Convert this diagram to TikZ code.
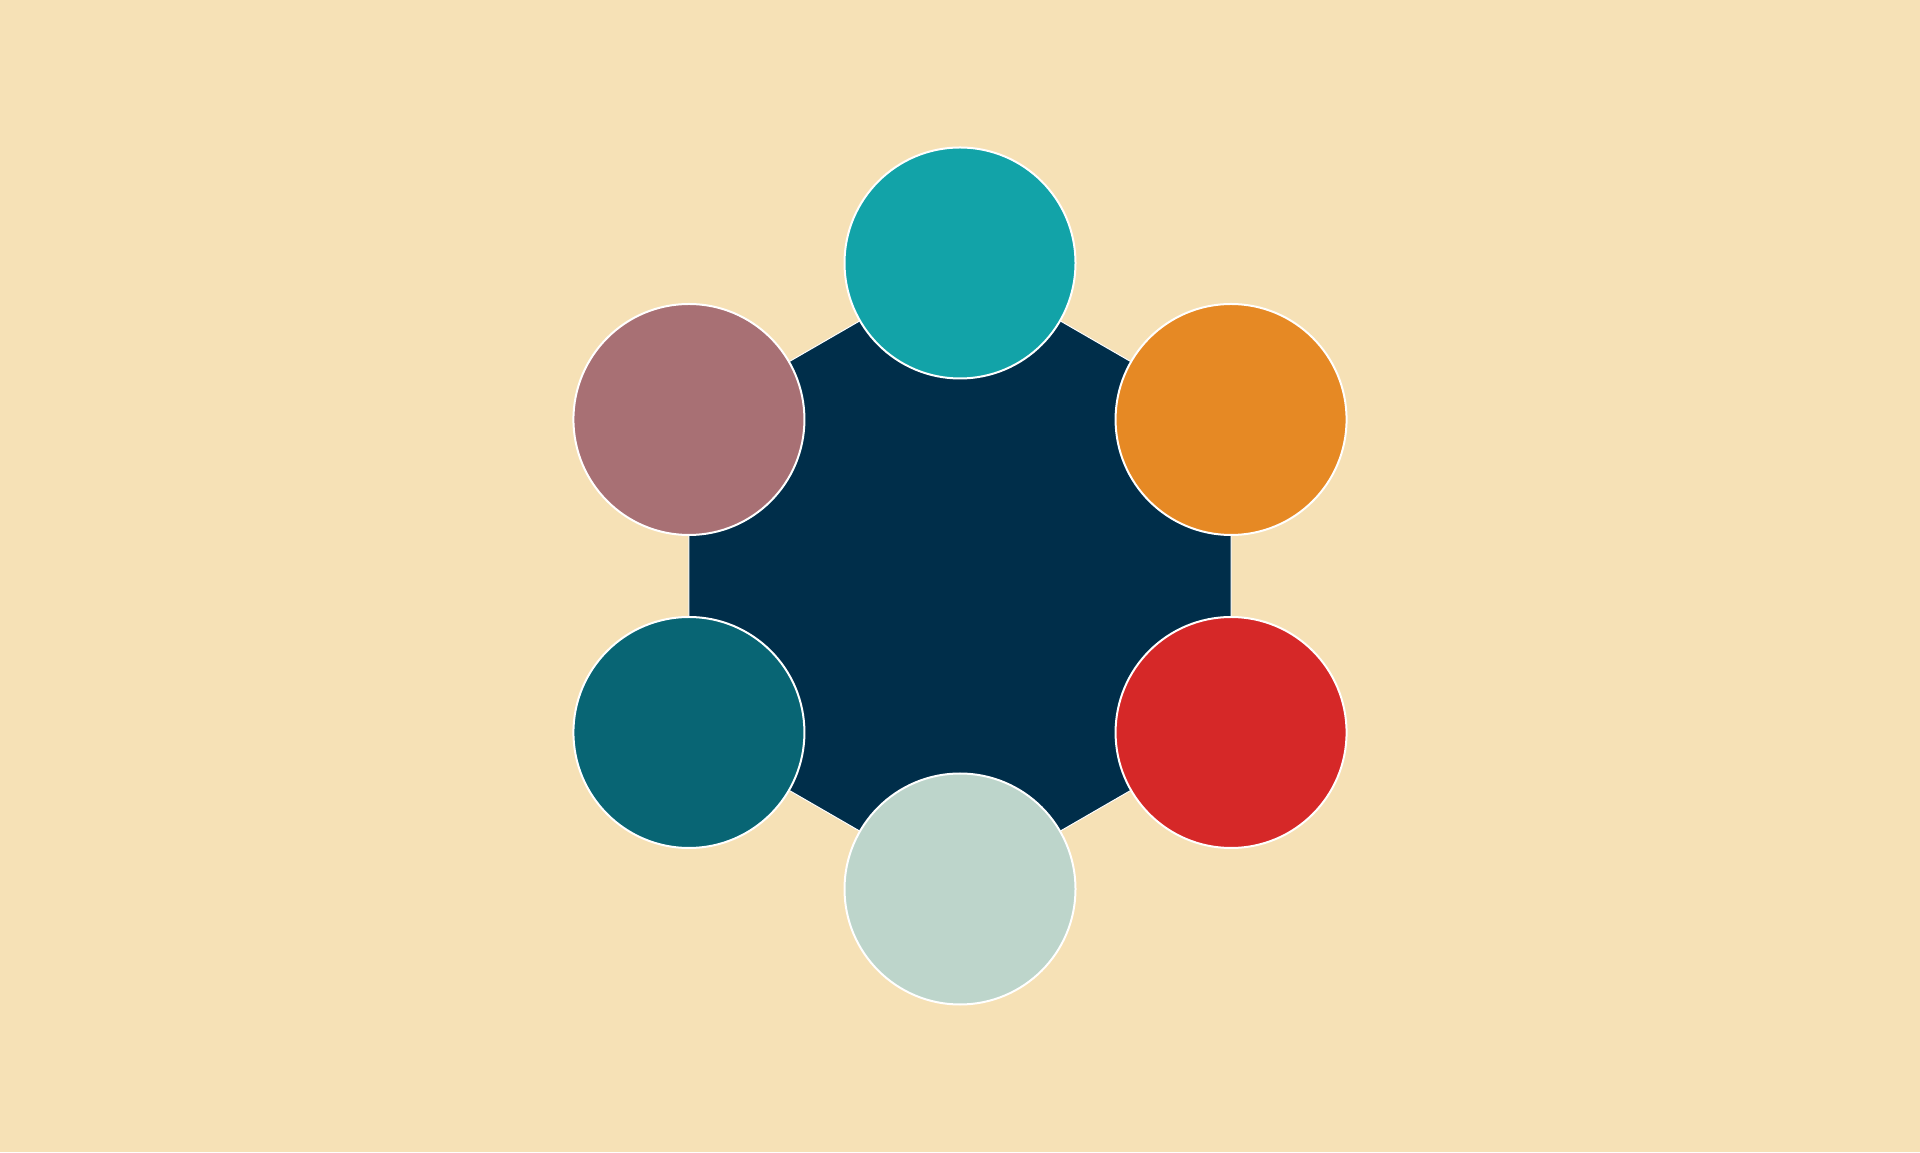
\documentclass[tikz,border=0pt]{standalone}
\usetikzlibrary{calc}
\begin{document}
\begin{tikzpicture}[x=1pt,y=1pt,
  disc/.style={circle,draw=white,line width=2pt,minimum size=231pt,inner sep=0pt}]
\definecolor{bg}{HTML}{F6E1B6}
\definecolor{navy}{HTML}{002E4A}
\definecolor{cteal}{HTML}{12A3A8}
\definecolor{corange}{HTML}{E68924}
\definecolor{cred}{HTML}{D62828}
\definecolor{cmint}{HTML}{BDD5CB}
\definecolor{cpetrol}{HTML}{086574}
\definecolor{cmauve}{HTML}{A87074}
\fill[bg] (0,0) rectangle (1920,1152);
\useasboundingbox (0,0) rectangle (1920,1152);
\coordinate (c) at (960,576);
\foreach \i/\a in {1/90,2/30,3/-30,4/-90,5/-150,6/150}{
  \coordinate (v\i) at ($(c)+(\a:313)$);
}
\fill[navy,draw=white,line width=1pt] (v1)--(v2)--(v3)--(v4)--(v5)--(v6)--cycle;
\node[disc,fill=cteal] (n1) at (v1) {};
\node[disc,fill=corange] (n2) at (v2) {};
\node[disc,fill=cred] (n3) at (v3) {};
\node[disc,fill=cmint] (n4) at (v4) {};
\node[disc,fill=cpetrol] (n5) at (v5) {};
\node[disc,fill=cmauve] (n6) at (v6) {};
\end{tikzpicture}
\end{document}
